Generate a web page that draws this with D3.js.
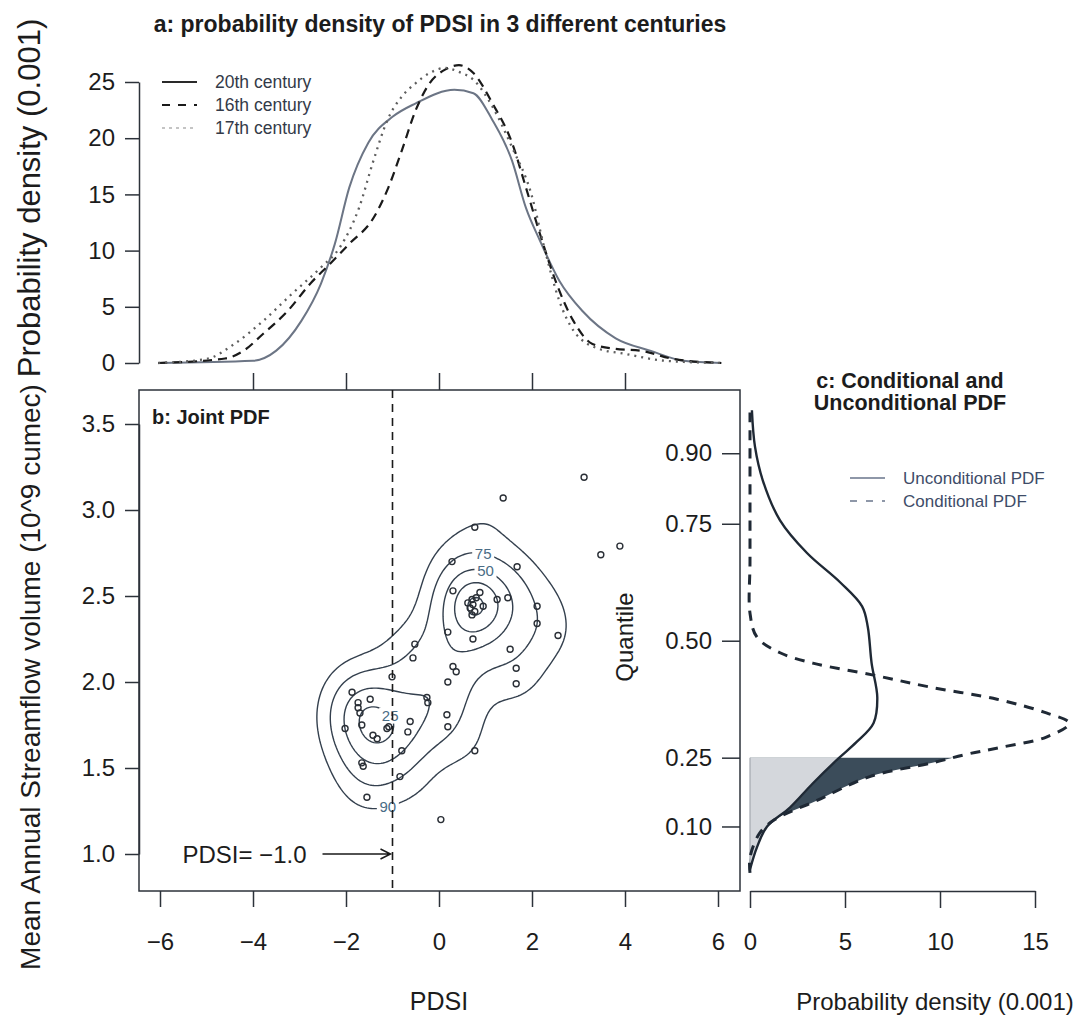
<!DOCTYPE html>
<html>
<head>
<meta charset="utf-8">
<script src="https://cdn.jsdelivr.net/npm/d3@7"></script>
<style>
  body { margin: 0; background: #fff; }
</style>
</head>
<body>
<svg id="chart" width="1073" height="1024"></svg>
<script>
// ---- data ----
const pdsiTicks = [-6, -4, -2, 0, 2, 4, 6];
const pdsiTopTicks = [-4, -2, 0, 2, 4];
const densATicks = [0, 5, 10, 15, 20, 25];
const flowTicks = [1.0, 1.5, 2.0, 2.5, 3.0, 3.5];
const densCTicks = [0, 5, 10, 15];
const quantileLabels = ["0.10", "0.25", "0.50", "0.75", "0.90"];
const quantileFlows = [1.16, 1.56, 2.24, 2.92, 3.33];

// panel a: PDSI densities (0.001) per century
const c20Pdsi = [-6.04, -4.0, -3.5, -2.96, -2.54, -2.24, -1.93, -1.52, -1.0, -0.5, 0.33, 0.74, 1.15, 1.57, 1.87, 2.17, 2.59, 3.09, 3.8, 4.54, 5.26, 6.07];
const c20Dens = [0, 0.2, 1.1, 3.75, 7.05, 10.6, 15.6, 19.6, 21.9, 23.1, 24.3, 24.0, 21.6, 18.0, 13.8, 10.9, 7.3, 4.6, 2.2, 1.1, 0.2, 0];
const c16Pdsi = [-6.04, -4.6, -4.2, -3.78, -3.26, -2.76, -2.35, -1.93, -1.41, -1.11, -0.8, -0.5, -0.2, 0.13, 0.43, 0.74, 1.15, 1.57, 1.87, 2.17, 2.48, 2.89, 3.3, 3.8, 4.33, 5.04, 6.07];
const c16Dens = [0, 0.4, 1.1, 2.6, 4.6, 7.1, 8.8, 10.6, 12.9, 15.4, 18.9, 22.5, 24.9, 26.1, 26.5, 25.8, 23.1, 19.6, 15.6, 11.5, 7.6, 3.75, 1.7, 1.25, 1.1, 0.36, 0];
const c17Pdsi = [-6.04, -5.0, -4.4, -3.78, -3.15, -2.54, -2.13, -1.72, -1.41, -1.11, -0.8, -0.5, -0.2, 0.13, 0.43, 0.74, 1.15, 1.57, 1.98, 2.28, 2.59, 2.89, 3.41, 4.02, 4.85, 6.07];
const c17Dens = [0, 0.36, 1.7, 3.75, 6.2, 8.5, 10.3, 13.8, 18.0, 21.6, 23.7, 24.9, 25.8, 26.25, 25.9, 25.2, 22.8, 19.2, 15.1, 10.0, 5.5, 2.9, 1.3, 0.8, 0.2, 0];
const centuryNames = ["20th century", "16th century", "17th century"];

// panel b: observed (PDSI, streamflow) pairs
const obsPdsi = [3.12, 1.38, 3.48, 3.89, 0.77, 0.28, 1.68, 0.30, 1.48, 1.25, 2.11, 2.11, 2.56,
  0.71, 0.73, 0.67, 0.77, 0.71, 0.88, 0.95, 0.80, 0.62,
  0.19, 0.73, 1.53, -0.52, -0.56, 0.30, 0.37, 0.19, 1.66, 1.66, -1.01,
  -1.87, -1.74, -1.74, -1.70, -1.48, -2.02, -1.66, -1.42, -1.33, -1.12, -1.08, -0.62, -0.67,
  -0.26, -0.24, 0.17, 0.19, -0.80, -1.66, -1.63, -0.84, -1.55, 0.77, 0.04];
const obsFlow = [3.19, 3.07, 2.74, 2.79, 2.90, 2.70, 2.67, 2.53, 2.49, 2.48, 2.44, 2.34, 2.27,
  2.48, 2.45, 2.43, 2.41, 2.39, 2.52, 2.44, 2.49, 2.46,
  2.29, 2.25, 2.19, 2.22, 2.14, 2.09, 2.06, 2.00, 2.08, 1.99, 2.03,
  1.94, 1.88, 1.85, 1.82, 1.90, 1.73, 1.75, 1.69, 1.67, 1.73, 1.74, 1.77, 1.71,
  1.91, 1.88, 1.81, 1.74, 1.60, 1.53, 1.51, 1.45, 1.33, 1.60, 1.20];
const hdrLevels = [90, 75, 50, 25, 10];
const hdrLabelText = ["90", "75", "50", "25"];
const hdrLabelLevel = [90, 75, 50, 25];
const hdrLabelPdsi = [-1.1, 0.92, 0.95, -0.71];
const hdrLabelFlow = [1.28, 2.73, 2.60, 1.89];
const cutPdsi = -1.0;

// panel c: streamflow densities (0.001)
const uncFlow = [0.91, 1.04, 1.16, 1.27, 1.41, 1.55, 1.65, 1.76, 1.91, 2.11, 2.32, 2.44, 2.58, 2.75, 2.94, 3.17, 3.37, 3.58];
const uncDens = [0.0, 0.37, 0.9, 2.1, 3.3, 4.6, 5.6, 6.5, 6.7, 6.4, 6.2, 5.9, 4.74, 3.0, 1.58, 0.68, 0.26, 0.1];
const condFlow = [0.89, 0.98, 1.12, 1.20, 1.31, 1.45, 1.53, 1.58, 1.62, 1.68, 1.76, 1.82, 1.90, 1.97, 2.04, 2.11, 2.17, 2.26, 2.40, 2.70, 3.20, 3.58];
const condDens = [0, 0, 0.5, 1.3, 3.5, 6.3, 9.6, 11.4, 13.2, 15.6, 16.8, 15.6, 13.0, 9.5, 6.5, 3.3, 1.58, 0.37, 0, 0, 0, 0];
const cutQuantileFlow = 1.56;
const pdfNames = ["Unconditional PDF", "Conditional PDF"];

// ---- setup ----
const svg = d3.select('#chart');
const font = '"Liberation Sans", Arial, Helvetica, sans-serif';
const ink = '#2c323a';

const xB = d3.scaleLinear().domain([-6, 6]).range([160, 718]);
const yA = d3.scaleLinear().domain([0, 25]).range([363, 82]);
const yB = d3.scaleLinear().domain([1, 3.5]).range([854, 424]);
const xC = d3.scaleLinear().domain([0, 15]).range([750, 1035]);

svg.attr('font-family', font);

function styleAxis(g, size, keepDomain) {
  g.attr('font-family', font).attr('font-size', size);
  if (!keepDomain) g.select('path.domain').remove();
  g.selectAll('path.domain').attr('stroke', ink).attr('stroke-width', 1.5);
  g.selectAll('.tick line').attr('stroke', ink).attr('stroke-width', 1.5);
  g.selectAll('.tick text').attr('fill', '#1c1c1c');
}

// ---- panel a ----
svg.append('text')
  .attr('x', 440).attr('y', 32)
  .attr('text-anchor', 'middle')
  .attr('font-size', 23).attr('font-weight', 'bold').attr('fill', '#1c1c1c')
  .text('a: probability density of PDSI in 3 different centuries');

svg.append('g')
  .attr('transform', 'translate(139,0)')
  .call(d3.axisLeft(yA).tickValues(densATicks).tickSize(14).tickPadding(10).tickSizeOuter(0))
  .call(g => styleAxis(g, 24, true));

svg.append('g')
  .attr('transform', 'translate(0,390)')
  .call(d3.axisTop(xB).tickValues(pdsiTopTicks).tickSize(17).tickFormat(''))
  .call(g => styleAxis(g, 24, false));

svg.append('text')
  .attr('transform', 'translate(40,198) rotate(-90)')
  .attr('text-anchor', 'middle').attr('font-size', 31).attr('fill', '#1c1c1c')
  .text('Probability density (0.001)');

const lineA = d3.line().curve(d3.curveMonotoneX).x(d => xB(d[0])).y(d => yA(d[1]));
const seriesA = [
  { pts: d3.zip(c20Pdsi, c20Dens), stroke: '#6c7585', dash: null, w: 2 },
  { pts: d3.zip(c16Pdsi, c16Dens), stroke: '#1a1a1a', dash: '9,6', w: 2.2 },
  { pts: d3.zip(c17Pdsi, c17Dens), stroke: '#5e5e5e', dash: '2,5', w: 2.3 }
];
svg.append('g').selectAll('path')
  .data(seriesA)
  .join('path')
  .attr('d', d => lineA(d.pts))
  .attr('fill', 'none')
  .attr('stroke', d => d.stroke)
  .attr('stroke-width', d => d.w)
  .attr('stroke-dasharray', d => d.dash);

const legA = svg.append('g').selectAll('g')
  .data(centuryNames)
  .join('g')
  .attr('transform', (d, i) => `translate(162,${82 + i * 23})`);
legA.append('line')
  .attr('x1', 0).attr('x2', 35)
  .attr('stroke', (d, i) => ['#2a2a2a', '#1a1a1a', '#c4c4c4'][i])
  .attr('stroke-width', 2)
  .attr('stroke-dasharray', (d, i) => [null, '8,8', '3,4'][i]);
legA.append('text')
  .attr('x', 53).attr('dy', '0.35em')
  .attr('font-size', 17.5).attr('fill', '#333a48')
  .text(d => d);

// ---- panel b ----
svg.append('rect')
  .attr('x', 139).attr('y', 390).attr('width', 601).attr('height', 501)
  .attr('fill', 'none').attr('stroke', ink).attr('stroke-width', 1.5);

svg.append('g')
  .attr('transform', 'translate(139,0)')
  .call(d3.axisLeft(yB).tickValues(flowTicks).tickFormat(d3.format('.1f')).tickSize(14).tickPadding(10).tickSizeOuter(0))
  .call(g => styleAxis(g, 24, true));

svg.append('g')
  .attr('transform', 'translate(0,891)')
  .call(d3.axisBottom(xB).tickValues(pdsiTicks).tickSize(16).tickPadding(26).tickSizeOuter(0))
  .call(g => styleAxis(g, 24, false));

svg.append('text')
  .attr('x', 439).attr('y', 1010)
  .attr('text-anchor', 'middle').attr('font-size', 25).attr('fill', '#1c1c1c')
  .text('PDSI');

svg.append('text')
  .attr('transform', 'translate(40,677) rotate(-90)')
  .attr('text-anchor', 'middle').attr('font-size', 28).attr('fill', '#1c1c1c')
  .text('Mean Annual Streamflow volume (10^9 cumec)');

svg.append('text')
  .attr('x', 152).attr('y', 424)
  .attr('font-size', 20).attr('font-weight', 'bold').attr('fill', '#1c1c1c')
  .text('b: Joint PDF');

// kernel density on a grid, HDR levels from densities at the observations
const gx0 = -4.5, gx1 = 6, gy0 = 0.6, gy1 = 3.9, nx = 211, ny = 166;
const gdx = (gx1 - gx0) / (nx - 1), gdy = (gy1 - gy0) / (ny - 1);
const hx = 0.55, hy = 0.17;
function kde(x, y) {
  let s = 0;
  for (let k = 0; k < obsPdsi.length; k++) {
    const u = (x - obsPdsi[k]) / hx, v = (y - obsFlow[k]) / hy;
    s += Math.exp(-0.5 * (u * u + v * v));
  }
  return s;
}
const grid = new Float64Array(nx * ny);
for (let j = 0; j < ny; j++) {
  for (let i = 0; i < nx; i++) {
    grid[j * nx + i] = kde(gx0 + i * gdx, gy0 + j * gdy);
  }
}
const atObs = obsPdsi.map((x, k) => kde(x, obsFlow[k])).sort(d3.ascending);
const levelValue = new Map(hdrLevels.map(p => [p, d3.quantileSorted(atObs, 1 - p / 100)]));
const contours = d3.contours().size([nx, ny]).thresholds([...levelValue.values()])(grid);

const gridProj = d3.geoTransform({
  point: function (x, y) {
    this.stream.point(xB(gx0 + (x - 0.5) * gdx), yB(gy0 + (y - 0.5) * gdy));
  }
});
const contourPath = d3.geoPath(gridProj);

svg.append('g')
  .selectAll('path')
  .data(contours)
  .join('path')
  .attr('d', contourPath)
  .attr('fill', 'none')
  .attr('stroke', '#34404e')
  .attr('stroke-width', 1.4);

// contour labels, snapped to the nearest vertex of their level
const labelG = svg.append('g');
hdrLabelText.forEach((t, i) => {
  const c = contours.find(c => Math.abs(c.value - levelValue.get(hdrLabelLevel[i])) < 1e-9);
  const ax = xB(hdrLabelPdsi[i]), ay = yB(hdrLabelFlow[i]);
  let best = [ax, ay], bd = Infinity;
  c.coordinates.forEach(poly => poly.forEach(ring => ring.forEach(([x, y]) => {
    const px = xB(gx0 + (x - 0.5) * gdx), py = yB(gy0 + (y - 0.5) * gdy);
    const d = (px - ax) ** 2 + (py - ay) ** 2;
    if (d < bd) { bd = d; best = [px, py]; }
  })));
  labelG.append('rect')
    .attr('x', best[0] - 11).attr('y', best[1] - 8).attr('width', 22).attr('height', 16)
    .attr('fill', '#fff');
  labelG.append('text')
    .attr('x', best[0]).attr('y', best[1]).attr('dy', '0.35em')
    .attr('text-anchor', 'middle').attr('font-size', 15).attr('fill', '#4a6c86')
    .text(t);
});

svg.append('g')
  .selectAll('circle')
  .data(d3.zip(obsPdsi, obsFlow))
  .join('circle')
  .attr('cx', d => xB(d[0]))
  .attr('cy', d => yB(d[1]))
  .attr('r', 3)
  .attr('fill', 'none')
  .attr('stroke', '#2a2f36')
  .attr('stroke-width', 1.4);

// conditioning line and arrow
svg.append('line')
  .attr('x1', xB(cutPdsi)).attr('x2', xB(cutPdsi))
  .attr('y1', 390).attr('y2', 891)
  .attr('stroke', '#1a1a1a').attr('stroke-width', 1.6).attr('stroke-dasharray', '8,6');

const ax1 = xB(cutPdsi) - 2, ay1 = yB(1.0);
svg.append('path')
  .attr('d', `M${ax1 - 68},${ay1}H${ax1}M${ax1 - 10},${ay1 - 5}L${ax1},${ay1}L${ax1 - 10},${ay1 + 5}`)
  .attr('fill', 'none').attr('stroke', '#1a1a1a').attr('stroke-width', 1.5);
svg.append('text')
  .attr('x', ax1 - 84).attr('y', ay1).attr('dy', '0.36em')
  .attr('text-anchor', 'end').attr('font-size', 24).attr('fill', '#1c1c1c')
  .text('PDSI= \u22121.0');

// quantile axis on the right edge of panel b
svg.append('g')
  .attr('transform', 'translate(740,0)')
  .call(d3.axisLeft(yB).tickValues(quantileFlows).tickFormat((d, i) => quantileLabels[i]).tickSize(18).tickPadding(10))
  .call(g => styleAxis(g, 24, false));

svg.append('text')
  .attr('transform', 'translate(633,637) rotate(-90)')
  .attr('text-anchor', 'middle').attr('font-size', 24).attr('fill', '#1c1c1c')
  .text('Quantile');

// ---- panel c ----
svg.append('text')
  .attr('text-anchor', 'middle').attr('font-size', 21.5).attr('font-weight', 'bold').attr('fill', '#1c1c1c')
  .selectAll('tspan')
  .data(['c: Conditional and', 'Unconditional PDF'])
  .join('tspan')
  .attr('x', 910).attr('y', (d, i) => 388 + i * 22)
  .text(d => d);

svg.append('g')
  .attr('transform', 'translate(0,891)')
  .call(d3.axisBottom(xC).tickValues(densCTicks).tickSize(17).tickPadding(25).tickSizeOuter(0))
  .call(g => styleAxis(g, 24, true));

svg.append('text')
  .attr('x', 935).attr('y', 1010)
  .attr('text-anchor', 'middle').attr('font-size', 24).attr('fill', '#1c1c1c')
  .text('Probability density (0.001)');

const uncPts = d3.zip(uncFlow, uncDens);
const condPts = d3.zip(condFlow, condDens);
const areaC = d3.area().curve(d3.curveCatmullRom.alpha(0.5))
  .y(d => yB(d[0])).x0(xC(0)).x1(d => xC(Math.max(0, d[1])));
const lineC = d3.line().curve(d3.curveCatmullRom.alpha(0.5))
  .y(d => yB(d[0])).x(d => xC(Math.max(0, d[1])));

svg.append('clipPath').attr('id', 'below-cut')
  .append('rect')
  .attr('x', xC(0) - 5).attr('y', yB(cutQuantileFlow))
  .attr('width', 330).attr('height', 891 - yB(cutQuantileFlow));

svg.append('path')
  .attr('d', areaC(condPts))
  .attr('clip-path', 'url(#below-cut)')
  .attr('fill', '#3b4c5a');
svg.append('path')
  .attr('d', areaC(uncPts))
  .attr('clip-path', 'url(#below-cut)')
  .attr('fill', '#d4d7dc')
  .attr('stroke', '#a3a8b0').attr('stroke-width', 1.2);

svg.append('path')
  .attr('d', lineC(uncPts))
  .attr('fill', 'none').attr('stroke', '#1f2935').attr('stroke-width', 2.4);
svg.append('path')
  .attr('d', lineC(condPts))
  .attr('fill', 'none').attr('stroke', '#1f2935').attr('stroke-width', 3)
  .attr('stroke-dasharray', '10,8');

const legC = svg.append('g').selectAll('g')
  .data(pdfNames)
  .join('g')
  .attr('transform', (d, i) => `translate(850,${478 + i * 23})`);
legC.append('line')
  .attr('x1', 0).attr('x2', 35)
  .attr('stroke', '#8e97a8').attr('stroke-width', 2)
  .attr('stroke-dasharray', (d, i) => [null, '7,9'][i]);
legC.append('text')
  .attr('x', 53).attr('dy', '0.35em')
  .attr('font-size', 17).attr('fill', '#3e4c68')
  .text(d => d);
</script>
</body>
</html>
